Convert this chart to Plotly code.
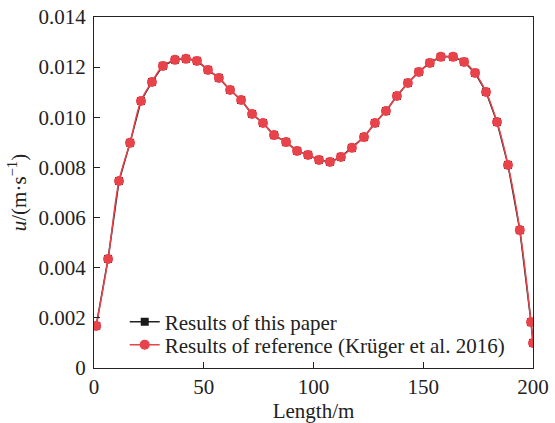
import plotly.graph_objects as go

length_m = [1.0, 6.4, 11.4, 16.4, 21.4, 26.4, 31.4, 36.9, 41.9, 46.9, 51.9, 56.9,
            62.0, 67.0, 72.0, 77.0, 82.0, 87.5, 92.5, 97.5, 102.5, 107.5, 112.5,
            117.5, 123.0, 128.0, 133.0, 138.0, 143.0, 148.0, 153.0, 158.0, 163.6,
            168.6, 173.6, 178.6, 183.6, 188.6, 194.0, 199.1, 200.0]
u_paper = [0.00168, 0.00435, 0.00746, 0.00898, 0.01065, 0.01141, 0.01205, 0.01229,
           0.01233, 0.01225, 0.01189, 0.01157, 0.01109, 0.01069, 0.01013, 0.00977,
           0.00929, 0.00901, 0.00866, 0.00850, 0.00830, 0.00822, 0.00842, 0.00878,
           0.00921, 0.00977, 0.01025, 0.01085, 0.01137, 0.01181, 0.01217, 0.01241,
           0.01241, 0.01221, 0.01177, 0.01101, 0.00981, 0.00810, 0.00550, 0.00183,
           0.00100]
u_reference = list(u_paper)

x_ticks = [0, 50, 100, 150, 200]
y_ticks = [0, 0.002, 0.004, 0.006, 0.008, 0.010, 0.012, 0.014]
y_tick_text = ["0", "0.002", "0.004", "0.006", "0.008", "0.010", "0.012", "0.014"]

RED = "#e8434b"
FONT = "Liberation Serif"
FS = 21
TXT = "#222222"

fig = go.Figure()
fig.add_trace(go.Scatter(
    x=length_m, y=u_paper, mode="lines+markers", name="Results of this paper",
    line=dict(color=TXT, width=1.5),
    marker=dict(symbol="square", size=8, color="#1a1a1a"),
    legend="legend",
))
fig.add_trace(go.Scatter(
    x=length_m, y=u_reference, mode="lines+markers",
    name="Results of reference (Krüger et al. 2016)",
    line=dict(color=RED, width=1.5, shape="spline"),
    marker=dict(symbol="circle", size=10, color=RED),
    legend="legend2",
))

axis_common = dict(
    showline=True, linecolor=TXT, linewidth=1.3, mirror=True,
    ticks="inside", ticklen=6, tickwidth=1.2, tickcolor=TXT,
    showgrid=False, zeroline=False, automargin=False,
    tickfont=dict(family=FONT, size=FS, color=TXT),
)

legend_common = dict(xanchor="left", yanchor="middle",
                     bgcolor="rgba(0,0,0,0)", borderwidth=0,
                     font=dict(family=FONT, size=FS, color=TXT),
                     itemsizing="trace")

fig.update_layout(
    width=555, height=423,
    margin=dict(l=94, r=22, t=17, b=55),
    paper_bgcolor="white", plot_bgcolor="white",
    font=dict(family=FONT, size=FS, color=TXT),
    showlegend=True,
    legend=dict(x=0.07, y=0.131, **legend_common),
    legend2=dict(x=0.07, y=0.0655, **legend_common),
    xaxis=dict(range=[0, 200], tickvals=x_ticks,
               title=dict(text="Length/m", standoff=6,
                          font=dict(family=FONT, size=FS, color=TXT)),
               **axis_common),
    yaxis=dict(range=[0, 0.014], tickvals=y_ticks, ticktext=y_tick_text,
               ticklabelstandoff=3,
               title=dict(text="<i>u</i>/(m·s<sup>−1</sup>)", standoff=6,
                          font=dict(family=FONT, size=FS, color=TXT)),
               **axis_common),
)

fig.write_html("out.html")
